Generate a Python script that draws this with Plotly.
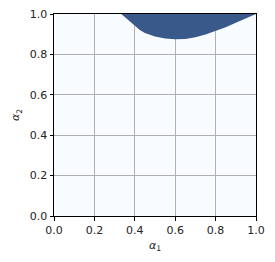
import plotly.graph_objects as go

# Boundary of the dark region
boundary_x = [0.333, 0.34, 0.35, 0.375, 0.40, 0.425, 0.45, 0.475, 0.50, 0.55, 0.60, 0.65, 0.70, 0.75, 0.80, 0.85, 0.90, 0.95, 1.00]
boundary_y = [1.000, 0.994, 0.986, 0.961, 0.940, 0.921, 0.906, 0.896, 0.889, 0.879, 0.875, 0.876, 0.885, 0.899, 0.916, 0.935, 0.957, 0.979, 1.000]

tick_vals = [0.0, 0.2, 0.4, 0.6, 0.8, 1.0]
tick_text = ["0.0", "0.2", "0.4", "0.6", "0.8", "1.0"]

fig = go.Figure()
fig.add_trace(go.Scatter(
    x=boundary_x, y=boundary_y, mode="lines", fill="toself",
    fillcolor="#39598a", line=dict(width=0, color="#39598a"),
    hoverinfo="skip", showlegend=False,
))

axis_common = dict(
    range=[0, 1], tickvals=tick_vals, ticktext=tick_text,
    showgrid=True, gridcolor="#b0b0b0", gridwidth=1,
    showline=True, linecolor="black", linewidth=1, mirror=True,
    ticks="outside", ticklen=3.5, tickwidth=1, tickcolor="black",
    zeroline=False, layer="above traces", automargin=False,
    tickfont=dict(family="DejaVu Sans", size=11, color="#222"),
)

fig.update_layout(
    width=275, height=262,
    margin=dict(l=54, r=19, t=14, b=46, autoexpand=False),
    paper_bgcolor="white", plot_bgcolor="#f8fbff",
    font=dict(family="DejaVu Sans", size=11, color="#222"),
    xaxis=dict(**axis_common, title=dict(text="<i>α</i><sub>1</sub>", standoff=5,
                                          font=dict(size=11))),
    yaxis=dict(**axis_common, title=dict(text="<i>α</i><sub>2</sub>", standoff=7,
                                          font=dict(size=11))),
    showlegend=False,
)

fig.write_html("out.html", config={"displayModeBar": False},
               post_script="document.body.style.margin='0';document.body.style.overflow='hidden';")
